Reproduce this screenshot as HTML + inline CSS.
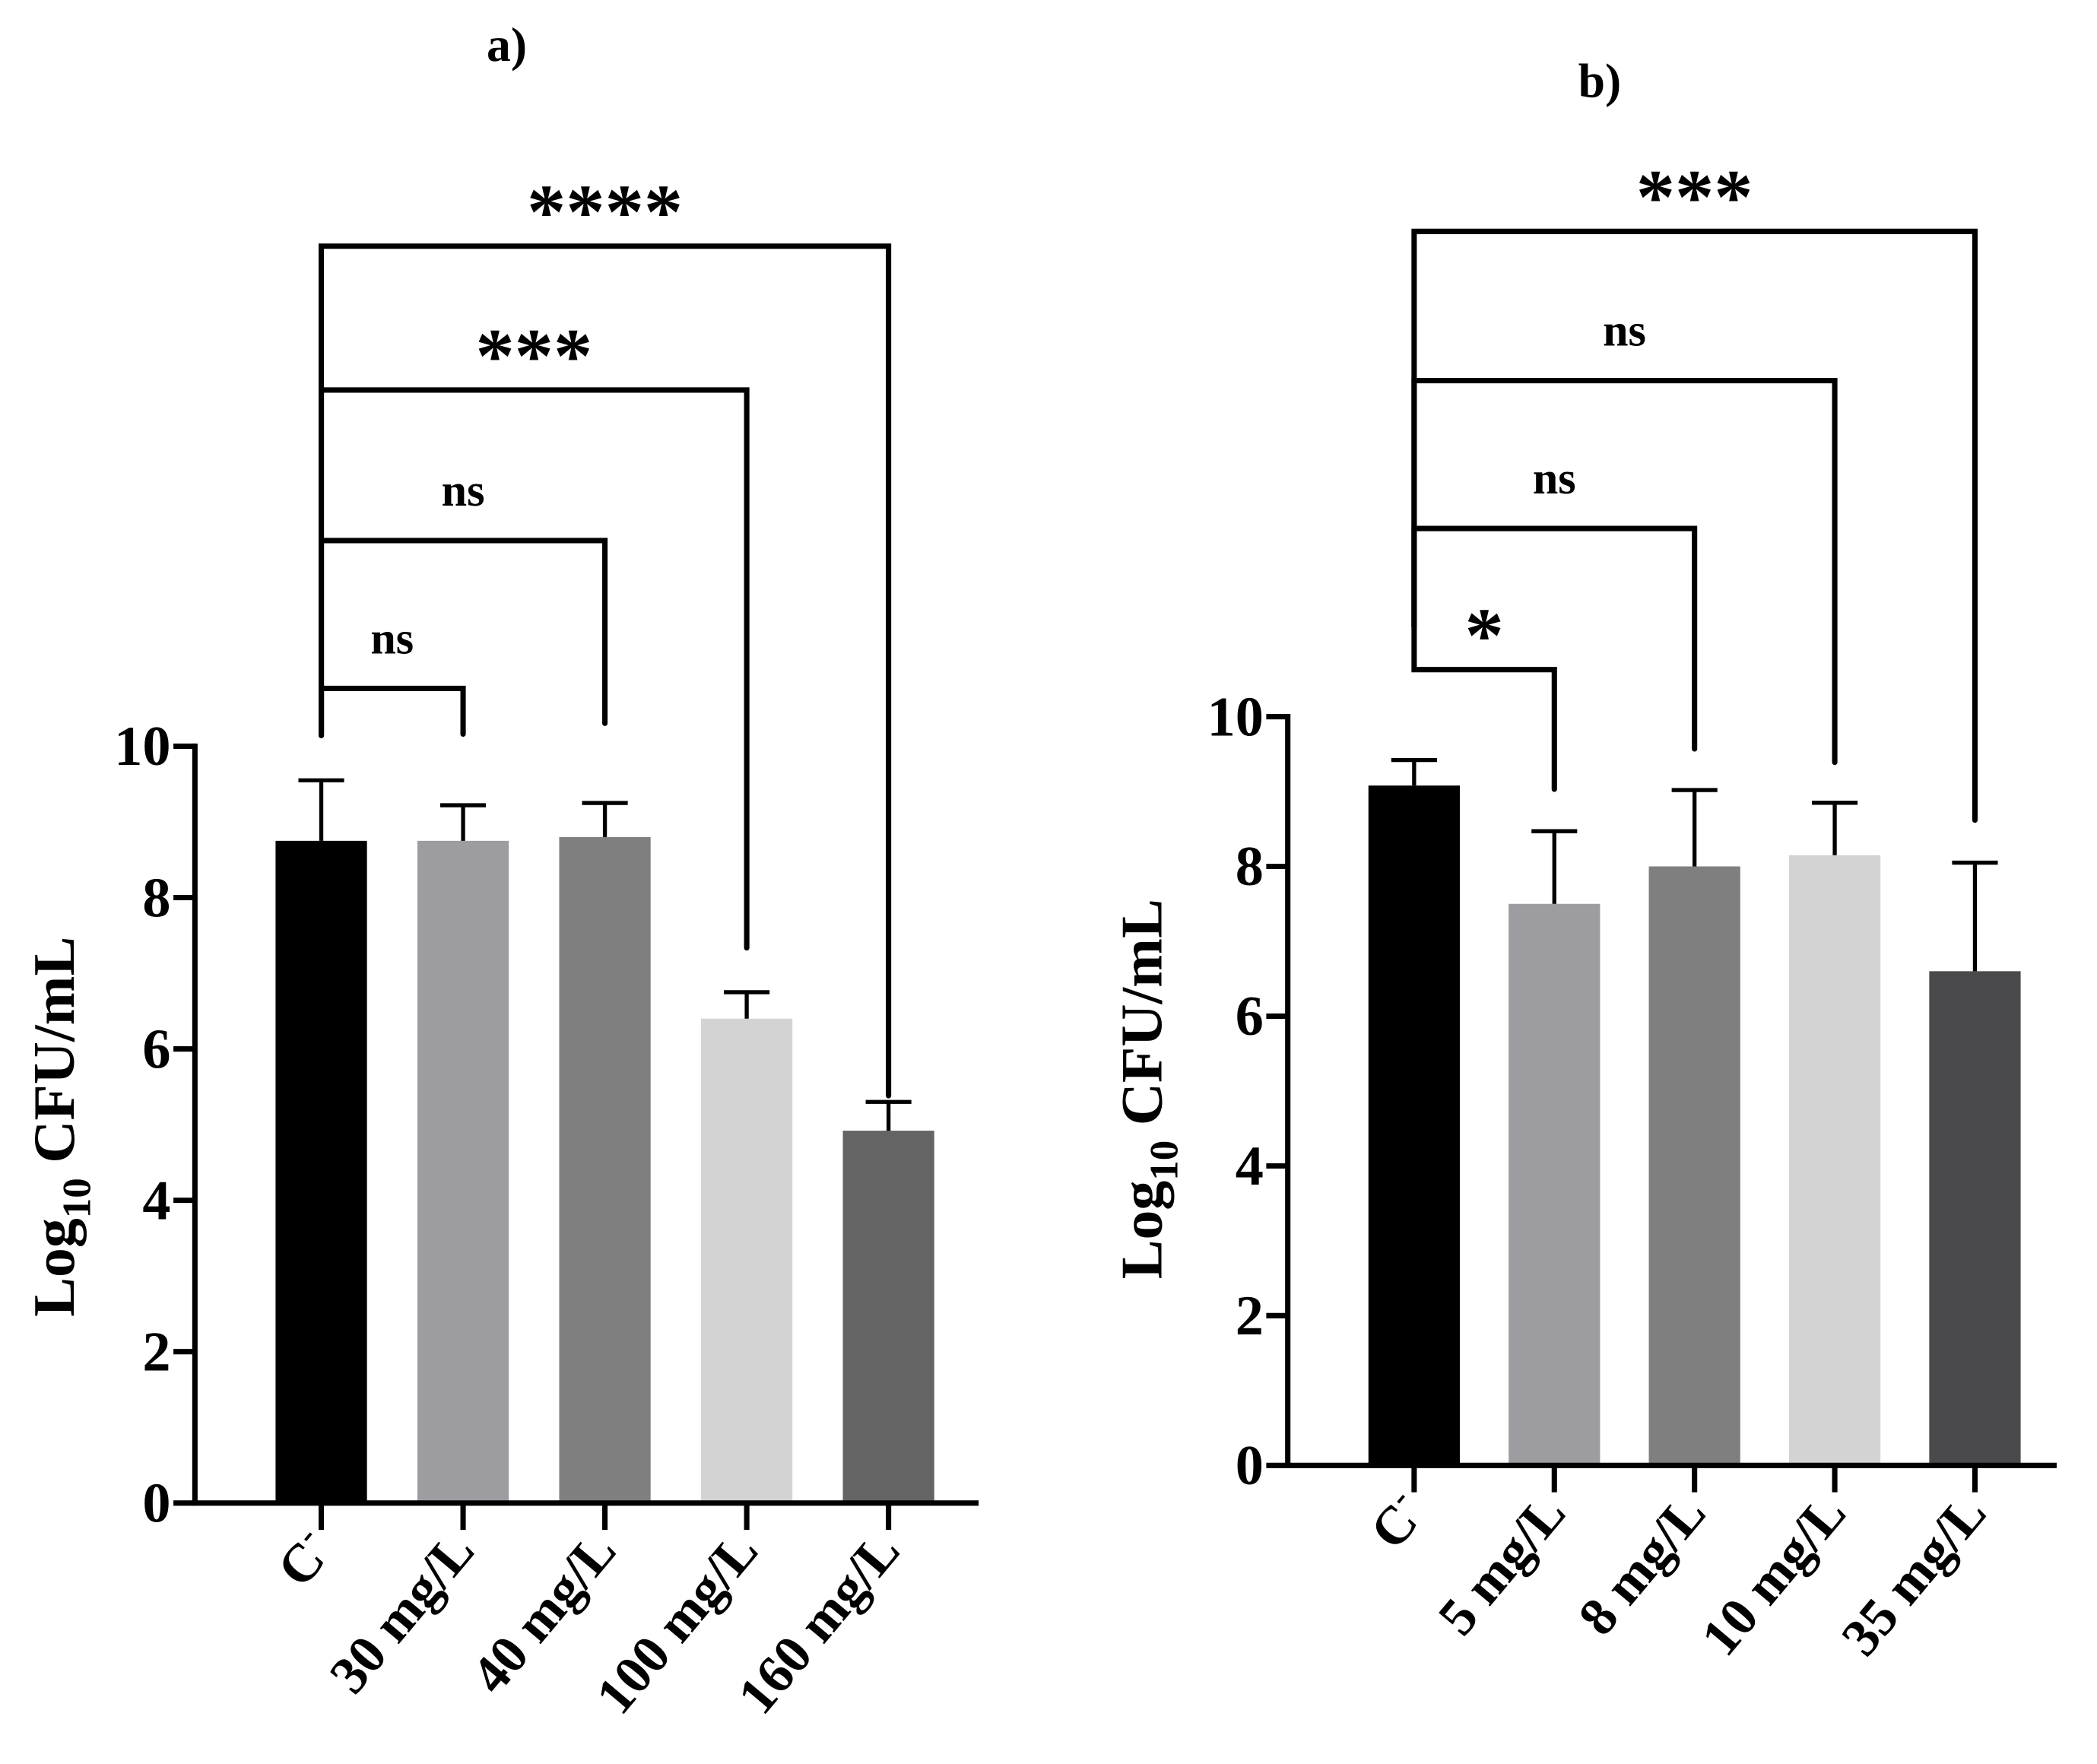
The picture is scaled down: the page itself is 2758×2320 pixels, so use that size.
<!DOCTYPE html>
<html><head><meta charset="utf-8"><style>
html,body{margin:0;padding:0;background:#fff}
svg{display:block}
text{font-family:"Liberation Serif",serif;font-weight:bold;fill:#000}
</style></head><body>
<svg id="fig" width="2758" height="2320" viewBox="0 0 1560 1312" xmlns="http://www.w3.org/2000/svg"></svg>
<script>
const catsA=["C-","30 mg/L","40 mg/L","100 mg/L","160 mg/L"];
const valsA=[8.75,8.75,8.8,6.4,4.92];
const errA=[9.55,9.22,9.25,6.75,5.3];
const colorsA=["#000000","#9d9ca1","#7f7f7f","#d3d3d3","#646464"];
const sigA=["ns","ns","***","****"];
const catsB=["C-","5 mg/L","8 mg/L","10 mg/L","35 mg/L"];
const valsB=[9.08,7.5,8.0,8.15,6.6];
const errB=[9.42,8.47,9.02,8.85,8.05];
const colorsB=["#000000","#9d9ca1","#7f7f7f","#d3d3d3","#4a4a4d"];
const sigB=["*","ns","ns","***"];
const ticks=[0,2,4,6,8,10];

const NS="http://www.w3.org/2000/svg";
const svg=document.getElementById('fig');
function el(tag,attrs,parent,txt){const e=document.createElementNS(NS,tag);for(const k in attrs)e.setAttribute(k,attrs[k]);if(txt!==undefined)e.textContent=txt;(parent||svg).appendChild(e);return e;}

function panel(cfg){
  const g=el('g',{});
  
  
  const y=v=>cfg.y0-(cfg.y0-cfg.y10)*v/10;
  const x=i=>cfg.c0+i*cfg.step;
  const t=el('text',{x:cfg.titleX,y:cfg.titleY,'font-size':36,'text-anchor':'middle'},g,cfg.title);
  
  
  cfg.vals.forEach((v,i)=>{
    const b=el('rect',{x:x(i)-34,y:y(v),width:68,height:y(0)-y(v),fill:cfg.colors[i]},g);
    
    
    const e=el('path',{d:`M${x(i)},${y(v)}V${y(cfg.err[i])}M${x(i)-17},${y(cfg.err[i])}H${x(i)+17}`,stroke:'#000','stroke-width':3,fill:'none'},g);
    
    
  });
  const ax=el('path',{d:`M${cfg.ax},${y(10)-2}V${y(0)}H${cfg.axEnd}`,stroke:'#000','stroke-width':4,fill:'none'},g);
  
  
  ticks.forEach(tv=>{
    el('path',{d:`M${cfg.ax-16},${y(tv)}H${cfg.ax}`,stroke:'#000','stroke-width':4},g);
    const tl=el('text',{x:cfg.ax-18,y:y(tv)+14,'font-size':42,'text-anchor':'end'},g,tv);
    
    
  });
  cfg.cats.forEach((c,i)=>{
    el('path',{d:`M${x(i)},${y(0)}V${y(0)+20}`,stroke:'#000','stroke-width':4},g);
    const lx=x(i)+10, ly=y(0)+36;
    const tl=el('text',{x:lx,y:ly,'font-size':40,'text-anchor':'end',transform:`rotate(-50 ${lx} ${ly})`},g);
    
    
    if(c==="C-"){tl.textContent="C";el('tspan',{'font-size':26,dy:-16},tl,"-");}
    else tl.textContent=c;
  });
  const yl=el('text',{x:0,y:0,'font-size':44,'text-anchor':'middle',transform:`translate(${cfg.ylX},${cfg.ylY}) rotate(-90)`},g);
  
  
  yl.appendChild(document.createTextNode('Log'));
  el('tspan',{'font-size':30,dy:12},yl,'10');
  el('tspan',{dy:-12},yl,' CFU/mL');
  cfg.sig.forEach((s,k)=>{
    const i=k+1, top=cfg.brTop[k];
    const br=el('path',{d:`M${x(0)},${cfg.leftEnd}V${top}H${x(i)}V${cfg.rightEnd[k]}`,stroke:'#000','stroke-width':4,fill:'none','stroke-linecap':'round'},g);
    
    
    const isStar=s.indexOf('*')>=0;
    const lt=el('text',{x:(x(0)+x(i))/2,y:isStar?top-6:top-26,'font-size':isStar?58:34,'font-weight':isStar?'bold':'normal','text-anchor':'middle'},g,s);
    
    
  });
}

panel({name:'panel-a',title:'a)',titleX:377,titleY:45,cats:catsA,vals:valsA,err:errA,colors:colorsA,sig:sigA,
  y0:1118,y10:555,c0:239,step:105.5,ax:145,axEnd:728,ylX:55,ylY:838,
  brTop:[512,402,290,183],leftEnd:547,rightEnd:[546,538,705,815]});
panel({name:'panel-b',title:'b)',titleX:1190,titleY:72,cats:catsB,vals:valsB,err:errB,colors:colorsB,sig:sigB,
  y0:1090,y10:533,c0:1052,step:104.3,ax:958,axEnd:1530,ylX:864,ylY:810,
  brTop:[498,393,283,172],leftEnd:466,rightEnd:[587,557,567,610]});
</script>
</body></html>
